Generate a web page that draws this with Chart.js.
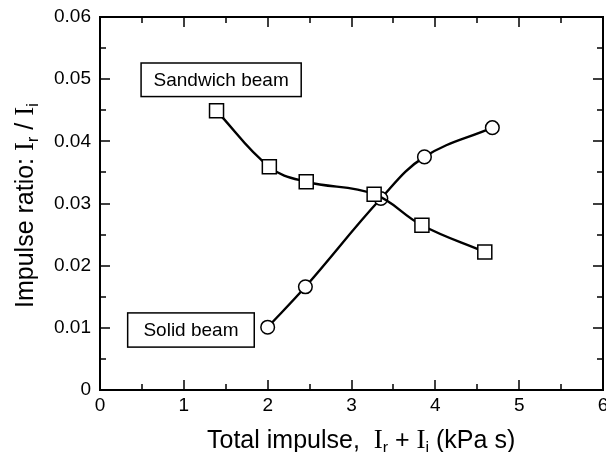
<!DOCTYPE html>
<html>
<head>
<meta charset="utf-8">
<script src="https://cdn.jsdelivr.net/npm/chart.js@4/dist/chart.umd.min.js"></script>
<style>
html,body{margin:0;padding:0;background:#fff;}
#wrap{width:606px;height:452px;position:relative;}
</style>
</head>
<body>
<div id="wrap"><canvas id="c" width="606" height="452"></canvas></div>
<script>
// ---- data ----
const sandwichX = [1.39, 2.02, 2.46, 3.27, 3.84, 4.59];
const sandwichY = [0.0449, 0.0359, 0.0335, 0.0315, 0.0265, 0.0222];
const solidX = [2.00, 2.45, 3.35, 3.87, 4.68];
const solidY = [0.0101, 0.0166, 0.0308, 0.0375, 0.0422];
const xTicks = [0, 1, 2, 3, 4, 5, 6];
const yTicks = [0, 0.01, 0.02, 0.03, 0.04, 0.05, 0.06];
const seriesNames = ['Sandwich beam', 'Solid beam'];

const SANS = '"Liberation Sans", Arial, Helvetica, sans-serif';
const SERIF = '"Liberation Serif", "Times New Roman", serif';

function pts(xs, ys){ return xs.map((x,i)=>({x:x, y:ys[i]})); }
const zeroPad = () => ({left:0, right:0, top:0, bottom:0});

const framePlugin = {
  id: 'frame',
  beforeDraw(chart){
    const ctx = chart.ctx;
    ctx.save(); ctx.fillStyle = '#fff'; ctx.fillRect(0,0,chart.width,chart.height); ctx.restore();
  },
  afterDatasetsDraw(chart){
    const {ctx, chartArea:a, scales:{x, y}} = chart;
    ctx.save();
    ctx.strokeStyle = '#000';
    ctx.lineWidth = 2;
    ctx.strokeRect(a.left, a.top, a.right - a.left, a.bottom - a.top);
    ctx.lineWidth = 1.5;
    ctx.beginPath();
    for (let v = 0; v <= 6.0001; v += 0.5) {
      const px = Math.round(x.getPixelForValue(v));
      const len = (Math.abs(v - Math.round(v)) < 1e-6) ? 10 : 6;
      ctx.moveTo(px, a.bottom); ctx.lineTo(px, a.bottom - len);
      ctx.moveTo(px, a.top); ctx.lineTo(px, a.top + len);
    }
    for (let k = 0; k <= 12; k++) {
      const v = k * 0.005;
      const py = Math.round(y.getPixelForValue(v));
      const len = (k % 2 === 0) ? 10 : 6;
      ctx.moveTo(a.left, py); ctx.lineTo(a.left + len, py);
      ctx.moveTo(a.right, py); ctx.lineTo(a.right - len, py);
    }
    ctx.stroke();
    ctx.restore();
  },
  afterDraw(chart){
    const {ctx, scales:{x, y}} = chart;
    ctx.save();
    function box(text, x0, x1, y0, y1){
      const L = x.getPixelForValue(x0), R = x.getPixelForValue(x1);
      const T = y.getPixelForValue(y0), B = y.getPixelForValue(y1);
      ctx.fillStyle = '#fff';
      ctx.fillRect(L, T, R-L, B-T);
      ctx.strokeStyle = '#000'; ctx.lineWidth = 1.5;
      ctx.strokeRect(L, T, R-L, B-T);
      ctx.fillStyle = '#000';
      ctx.font = '19px ' + SANS;
      ctx.textAlign = 'center'; ctx.textBaseline = 'middle';
      ctx.fillText(text, (L+R)/2, (T+B)/2 + 1);
    }
    box(seriesNames[0], 0.49, 2.40, 0.0526, 0.0472);
    box(seriesNames[1], 0.33, 1.84, 0.0124, 0.0069);

    function drawRuns(runs, x0, y0){
      let cx = x0;
      ctx.textAlign = 'left'; ctx.textBaseline = 'alphabetic';
      for (const r of runs){
        ctx.font = r.f;
        ctx.fillText(r.t, cx, y0 + (r.dy||0));
        cx += ctx.measureText(r.t).width;
      }
      return cx - x0;
    }
    ctx.fillStyle = '#000';
    const big = '25px ' + SANS, ser = '27px ' + SERIF, sub = '16px ' + SANS;
    const xRuns = [
      {t:'Total impulse,  ', f:big},
      {t:'I', f:ser}, {t:'r', f:sub, dy:5},
      {t:' + ', f:big},
      {t:'I', f:ser}, {t:'i', f:sub, dy:5},
      {t:' (kPa s)', f:big}
    ];
    drawRuns(xRuns, 207, 448);

    const yRuns = [
      {t:'Impulse ratio: ', f:big},
      {t:'I', f:ser}, {t:'r', f:sub, dy:5},
      {t:' / ', f:big},
      {t:'I', f:ser}, {t:'i', f:sub, dy:5}
    ];
    ctx.save();
    ctx.translate(33, 308);
    ctx.rotate(-Math.PI/2);
    drawRuns(yRuns, 0, 0);
    ctx.restore();
    ctx.restore();
  }
};

new Chart(document.getElementById('c'), {
  type: 'scatter',
  data: {
    datasets: [
      {
        label: seriesNames[0],
        data: pts(sandwichX, sandwichY),
        showLine: true,
        tension: 0.4,
        borderColor: '#000',
        borderWidth: 2.4,
        pointStyle: 'rect',
        pointRadius: 9.9,
        pointHoverRadius: 9.9,
        pointBackgroundColor: '#fff',
        pointBorderColor: '#000',
        pointBorderWidth: 1.5
      },
      {
        label: seriesNames[1],
        data: pts(solidX, solidY),
        showLine: true,
        tension: 0.4,
        borderColor: '#000',
        borderWidth: 2.4,
        pointStyle: 'circle',
        pointRadius: 6.8,
        pointHoverRadius: 6.8,
        pointBackgroundColor: '#fff',
        pointBorderColor: '#000',
        pointBorderWidth: 1.5
      }
    ]
  },
  options: {
    responsive: false,
    animation: false,
    events: [],
    layout: { autoPadding: false, padding: { left: 0, right: 3, top: 17, bottom: 0 } },
    plugins: { legend: { display: false }, tooltip: { enabled: false } },
    scales: {
      x: {
        type: 'linear', min: 0, max: 6,
        afterBuildTicks(s){ s.ticks = xTicks.map(v=>({value:v})); },
        afterFit(s){ s.height = 62; s.paddingLeft = 0; s.paddingRight = 0; s.getPadding = zeroPad; },
        grid: { display: false, drawTicks: false },
        border: { display: false },
        ticks: { color: '#000', font: { family: SANS, size: 19 }, padding: 4, maxRotation: 0,
          callback: v => String(v) }
      },
      y: {
        type: 'linear', min: 0, max: 0.06,
        afterBuildTicks(s){ s.ticks = yTicks.map(v=>({value:v})); },
        afterFit(s){ s.width = 100; s.paddingTop = 0; s.paddingBottom = 0; s.getPadding = zeroPad; },
        grid: { display: false, drawTicks: false },
        border: { display: false },
        ticks: { color: '#000', font: { family: SANS, size: 19 }, padding: 9,
          callback: v => v === 0 ? '0' : v.toFixed(2) }
      }
    }
  },
  plugins: [framePlugin]
});
</script>
</body>
</html>
